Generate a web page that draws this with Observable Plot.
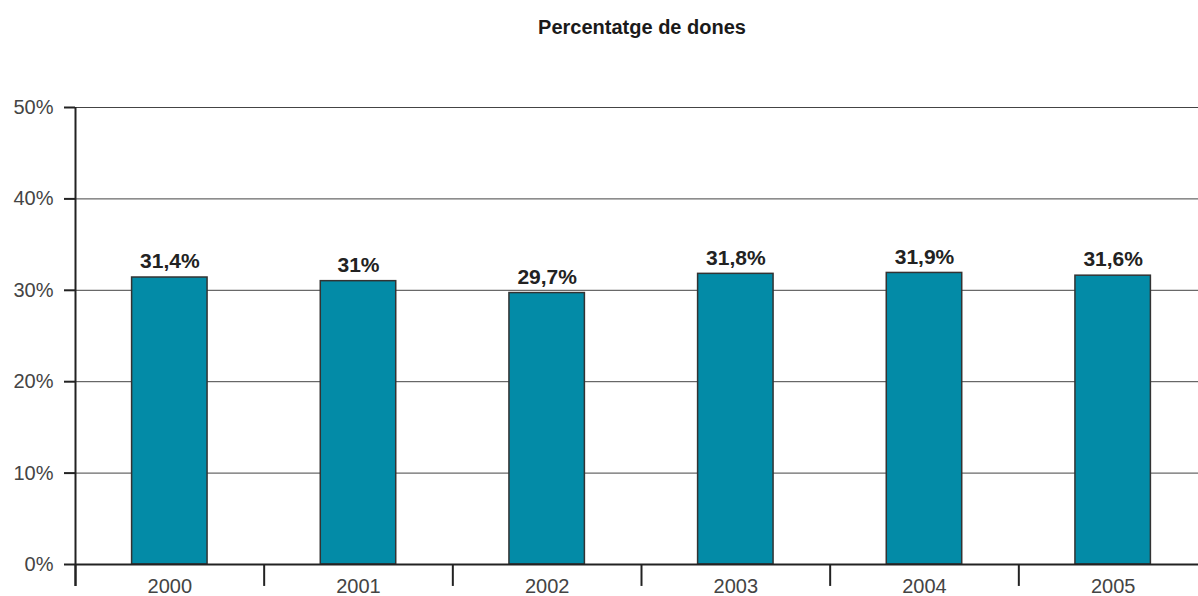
<!DOCTYPE html>
<html>
<head>
<meta charset="utf-8">
<script src="https://cdn.jsdelivr.net/npm/d3@7"></script>
<script src="https://cdn.jsdelivr.net/npm/@observablehq/plot@0.6"></script>
<style>
  body { margin: 0; background: #fff; font-family: "Liberation Sans", Arial, sans-serif; }
  #title { width: 1198px; height: 50px; box-sizing: border-box; padding-left: 86px; padding-top: 15px;
           text-align: center; font-weight: bold; font-size: 20px; color: #1a1a1a; line-height: 24px; }
</style>
</head>
<body>
<div id="title">Percentatge de dones</div>
<div id="chart"></div>
<script>
const years = ["2000", "2001", "2002", "2003", "2004", "2005"];
const values = [31.4, 31, 29.7, 31.8, 31.9, 31.6];
const yTicks = [0, 10, 20, 30, 40, 50];

const data = years.map((y, i) => ({year: y, value: values[i]}));
const fmt = v => String(v).replace(".", ",") + "%";

const xRange = [75, 1207];
const step = (xRange[1] - xRange[0]) / 6;

const chart = Plot.plot({
  width: 1198,
  height: 546,
  marginTop: 57,
  marginBottom: 32,
  marginLeft: 75,
  marginRight: 0,
  style: {fontFamily: "Liberation Sans, Arial, sans-serif", color: "#333", background: "#fff"},
  x: {domain: years, range: xRange, paddingInner: 0.6, paddingOuter: 0.3, round: false},
  y: {domain: [0, 50]},
  marks: [
    Plot.ruleY(yTicks.filter(d => d > 0), {stroke: "#444", strokeWidth: 1, strokeOpacity: 1}),
    Plot.barY(data, {x: "year", y: "value", fill: "#038ba7", stroke: "#333", strokeWidth: 1.5}),
    Plot.text(data, {x: "year", y: "value", text: d => fmt(d.value), dy: -16, fontSize: 21, fontWeight: "bold", fill: "#222"}),
    Plot.ruleX(years, {x: d => d, dx: -step / 2, y1: 0, y2: -2.4, stroke: "#222", strokeWidth: 2}),
    Plot.ruleX([years[0]], {x: d => d, dx: -step / 2, y1: 50, y2: -2.4, stroke: "#222", strokeWidth: 2}),
    Plot.ruleY([0], {stroke: "#222", strokeWidth: 2}),
    Plot.axisY({ticks: yTicks, tickFormat: d => d + "%", tickSize: 11, tickPadding: 11, fontSize: 20, stroke: "#222", strokeWidth: 2, fill: "#444", label: null}),
    Plot.axisX({tickSize: 0, tickPadding: 14, fontSize: 20, fill: "#444", label: null})
  ]
});
document.getElementById("chart").appendChild(chart);
</script>
</body>
</html>
